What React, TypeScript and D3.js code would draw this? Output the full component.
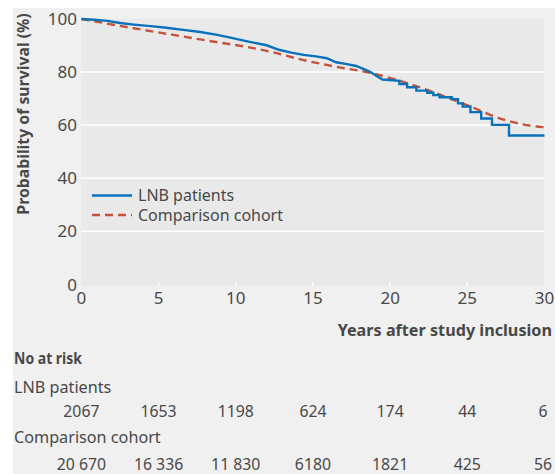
import * as React from 'react';
import * as d3 from 'd3';

// Kaplan-Meier estimates (years, % surviving)
const lnbYears = [0, 0.8, 1.7, 2.5, 3.4, 4.5, 5.5, 6.6, 7.7, 8.8, 9.8, 10.9, 12.0, 12.8, 13.6, 14.4, 15.2, 15.9, 16.5, 17.2, 17.8, 18.3, 18.7, 19.1, 19.5, 20.6, 20.6, 21.1, 21.1, 21.7, 21.7, 22.4, 22.4, 22.8, 22.8, 23.2, 23.2, 24.0, 24.0, 24.4, 24.4, 24.7, 24.7, 25.2, 25.2, 25.9, 25.9, 26.6, 26.6, 27.7, 27.7, 30];
const lnbSurvival = [100, 99.7, 99.3, 98.5, 97.9, 97.3, 96.7, 95.9, 95.1, 94.0, 92.8, 91.4, 90.1, 88.4, 87.3, 86.5, 85.9, 85.2, 83.7, 83.0, 82.3, 81.1, 80.1, 78.6, 77.2, 76.7, 75.5, 75.5, 74.3, 74.3, 73.0, 73.0, 72.2, 72.2, 71.3, 71.3, 70.5, 70.5, 69.8, 69.8, 68.2, 68.2, 67.0, 67.0, 64.9, 64.9, 62.5, 62.5, 60.1, 60.1, 56.1, 56.1];

const cohortYears = [0, 3.4, 7.7, 12.0, 14.4, 16.5, 18.7, 20.8, 23.0, 25.2, 27.3, 28.6, 30];
const cohortSurvival = [100, 96.5, 92.3, 88.0, 84.5, 82.0, 79.7, 76.4, 72.0, 67.0, 62.2, 60.3, 59.2];

const xTicks = [0, 5, 10, 15, 20, 25, 30];
const yTicks = [0, 20, 40, 60, 80, 100];

const seriesNames = ['LNB patients', 'Comparison cohort'];
const atRiskLnb = ['2067', '1653', '1198', '624', '174', '44', '6'];
const atRiskCohort = ['20 670', '16 336', '11 830', '6180', '1821', '425', '56'];

const BLUE = '#0a72ba';
const RED = '#c4533a';
const TEXT = '#484848';
const FONT = '"Noto Sans", "Open Sans", sans-serif';

class SurvivalChart extends React.Component {
  private element;

  componentDidMount() {
    this.init();
  }

  init() {
    const width = 555;
    const height = 474;
    const plot = {left: 81, right: 544, top: 19, bottom: 286};

    const svg = d3.select(this.element)
      .attr('width', width)
      .attr('height', height)
      .style('font-family', FONT);

    svg.selectAll('*').remove();

    svg.append('rect')
      .attr('x', 13).attr('y', 8)
      .attr('width', width - 13).attr('height', height - 8)
      .attr('fill', '#f0f0f0');

    const x = d3.scaleLinear().domain([0, 30]).range([81.4, 544.5]);
    const y = d3.scaleLinear().domain([0, 100]).range([284.3, 19]);

    svg.append('rect')
      .attr('x', plot.left).attr('y', plot.top)
      .attr('width', plot.right - plot.left).attr('height', plot.bottom - plot.top)
      .attr('fill', '#e9e9e9');

    // gridlines
    svg.append('g').selectAll('line')
      .data(yTicks.filter(d => d > 0 && d < 100))
      .enter().append('line')
      .attr('x1', plot.left).attr('x2', plot.right)
      .attr('y1', d => y(d)).attr('y2', d => y(d))
      .attr('stroke', '#ffffff').attr('stroke-width', 1.5);

    // x tick marks
    svg.append('g').selectAll('line')
      .data(xTicks.filter(d => d > 0 && d < 30))
      .enter().append('line')
      .attr('x1', d => x(d)).attr('x2', d => x(d))
      .attr('y1', plot.bottom - 4).attr('y2', plot.bottom)
      .attr('stroke', '#ffffff').attr('stroke-width', 1.5);

    // y tick labels
    svg.append('g').selectAll('text')
      .data(yTicks)
      .enter().append('text')
      .attr('x', 77)
      .attr('y', d => (d === 0 ? 285 : y(d)))
      .attr('dy', '0.35em')
      .attr('text-anchor', 'end')
      .attr('font-size', '17px')
      .attr('fill', TEXT)
      .text(d => d);

    // x tick labels
    svg.append('g').selectAll('text')
      .data(xTicks)
      .enter().append('text')
      .attr('x', d => x(d))
      .attr('y', 298)
      .attr('dy', '0.35em')
      .attr('text-anchor', 'middle')
      .attr('font-size', '17px')
      .attr('fill', TEXT)
      .text(d => d);

    // axis titles
    svg.append('text')
      .attr('transform', 'translate(23, 114) rotate(-90)')
      .attr('dy', '0.35em')
      .attr('text-anchor', 'middle')
      .attr('font-size', '15.8px')
      .attr('font-weight', 'bold')
      .attr('fill', TEXT)
      .text('Probability of survival (%)');

    svg.append('text')
      .attr('x', 552).attr('y', 330)
      .attr('dy', '0.35em')
      .attr('text-anchor', 'end')
      .attr('font-size', '16.2px')
      .attr('font-weight', 'bold')
      .attr('fill', TEXT)
      .text('Years after study inclusion');

    // survival curves
    const lineLnb = d3.line<number>()
      .x(i => x(lnbYears[i]))
      .y(i => y(lnbSurvival[i]));
    const lineCohort = d3.line<number>()
      .x(i => x(cohortYears[i]))
      .y(i => y(cohortSurvival[i]))
      .curve(d3.curveMonotoneX);

    svg.append('path')
      .attr('d', lineCohort(d3.range(cohortYears.length)))
      .attr('fill', 'none')
      .attr('stroke', RED)
      .attr('stroke-width', 2.4)
      .attr('stroke-dasharray', '8,5');

    svg.append('path')
      .attr('d', lineLnb(d3.range(lnbYears.length)))
      .attr('fill', 'none')
      .attr('stroke', BLUE)
      .attr('stroke-width', 2.4)
      .attr('stroke-linejoin', 'miter');

    // legend
    const legend = svg.append('g');
    seriesNames.forEach((name, i) => {
      const ly = 195.5 + i * 19.5;
      legend.append('line')
        .attr('x1', 92).attr('x2', 132)
        .attr('y1', ly).attr('y2', ly)
        .attr('stroke', i === 0 ? BLUE : RED)
        .attr('stroke-width', 2.4)
        .attr('stroke-dasharray', i === 0 ? null : '8,5');
      legend.append('text')
        .attr('x', 138).attr('y', ly)
        .attr('dy', '0.35em')
        .attr('font-size', '16px')
        .attr('fill', TEXT)
        .text(name);
    });

    // number at risk table, columns centred under the x ticks
    svg.append('text')
      .attr('x', 14).attr('y', 359)
      .attr('dy', '0.35em')
      .attr('font-size', '15.5px')
      .attr('font-weight', 'bold')
      .attr('textLength', 68)
      .attr('lengthAdjust', 'spacingAndGlyphs')
      .attr('fill', TEXT)
      .text('No at risk');

    const rows = [atRiskLnb, atRiskCohort];
    const labelY = [387, 437];
    const numberY = [411, 464.5];
    rows.forEach((row, r) => {
      svg.append('text')
        .attr('x', 14).attr('y', labelY[r])
        .attr('dy', '0.35em')
        .attr('font-size', '16.2px')
        .attr('fill', TEXT)
        .text(seriesNames[r]);
      svg.append('g').selectAll('text')
        .data(row)
        .enter().append('text')
        .attr('x', (d, i) => (i === row.length - 1 ? x(xTicks[i]) - 1.5 : x(xTicks[i])))
        .attr('y', numberY[r])
        .attr('dy', '0.35em')
        .attr('text-anchor', 'middle')
        .attr('font-size', '15.8px')
        .attr('fill', TEXT)
        .text(d => d);
    });
  }

  render() {
    return (
      <svg
        ref={(ref) => (this.element = ref)}
        style={{position: 'absolute', left: 0, top: 0, display: 'block'}}
      />
    );
  }
}

export default function App() {
  return <SurvivalChart />;
}
